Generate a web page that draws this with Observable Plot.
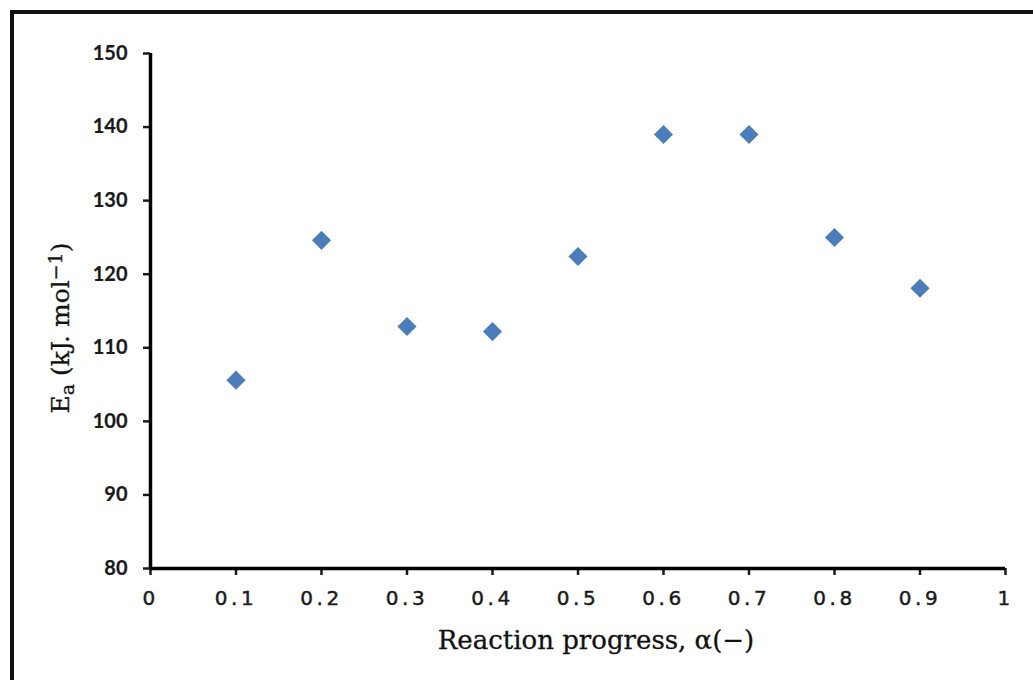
<!DOCTYPE html>
<html>
<head>
<meta charset="utf-8">
<script src="https://cdn.jsdelivr.net/npm/d3@7"></script>
<script src="https://cdn.jsdelivr.net/npm/@observablehq/plot@0.6"></script>
<style>
  html, body { margin: 0; padding: 0; background: #fff; overflow: hidden; }
  #wrap { position: relative; width: 1033px; height: 680px; overflow: hidden; }
  #frame { position: absolute; left: 10px; top: 10px; width: 1100px; height: 800px;
           border: 4px solid #111; box-shadow: 2px 2px 2px #bbb; pointer-events: none; }
  g[aria-label="x-axis tick label"] text { letter-spacing: 3.5px; stroke: #1a1a1a; stroke-width: 0.45px; }
  g[aria-label="y-axis tick label"] text { stroke: #1a1a1a; stroke-width: 0.2px; }
</style>
</head>
<body>
<div id="wrap"><div id="frame"></div></div>
<script>
// Data
const progress = [0.1, 0.2, 0.3, 0.4, 0.5, 0.6, 0.7, 0.8, 0.9];
const activation = [105.6, 124.6, 112.9, 112.2, 122.4, 139.0, 139.0, 125.0, 118.1];
const xTicks = [0, 0.1, 0.2, 0.3, 0.4, 0.5, 0.6, 0.7, 0.8, 0.9, 1];
const xTickLabels = ["0", "0.1", "0.2", "0.3", "0.4", "0.5", "0.6", "0.7", "0.8", "0.9", "1"];
const yTicks = [80, 90, 100, 110, 120, 130, 140, 150];
const yTickLabels = ["80", "90", "100", "110", "120", "130", "140", "150"];
const xTitle = "Reaction progress, α(−)";
const yTitleParts = ["E", "a", " (kJ. mol", "−1", ")"];
const yTitle = yTitleParts.join("");

const rows = progress.map((p, i) => ({p, e: activation[i]}));

const chart = Plot.plot({
  width: 1033,
  height: 680,
  marginLeft: 150,
  marginRight: 28,
  marginTop: 53,
  marginBottom: 112,
  style: {background: "transparent", color: "#1a1a1a"},
  x: {domain: [0, 1]},
  y: {domain: [80, 150]},
  marks: [
    Plot.axisX({ticks: xTicks, tickSize: 7, tickPadding: 15, strokeWidth: 2.5,
      tickFormat: d => xTickLabels[xTicks.indexOf(d)],
      fontSize: 20, fontFamily: "DejaVu Sans", label: null}),
    Plot.axisY({ticks: yTicks, tickSize: 7, tickPadding: 16, strokeWidth: 2.5,
      tickFormat: d => yTickLabels[yTicks.indexOf(d)],
      fontSize: 20, fontFamily: "Lato", fontWeight: "bold", label: null}),
    Plot.ruleX([0], {stroke: "#000", strokeWidth: 3.5}),
    Plot.ruleY([80], {stroke: "#000", strokeWidth: 3.5}),
    Plot.dot(rows, {x: "p", y: "e", symbol: "diamond2", r: 8.6, fill: "#4a7ebb", stroke: "none"}),
    Plot.text([xTitle], {frameAnchor: "bottom", dy: 80, dx: 18, textAnchor: "middle", fontSize: 26, fontFamily: "DejaVu Serif", fill: "#111", stroke: "#111", strokeWidth: 0.3}),
    Plot.text([yTitle], {frameAnchor: "left", rotate: -90, dx: -90, dy: 17, textAnchor: "middle", fontSize: 25, fontFamily: "DejaVu Serif", fill: "#111", stroke: "#111", strokeWidth: 0.3})
  ]
});
// Rebuild the y title with real subscript / superscript tspans
d3.select(chart).selectAll("text").filter(function() { return this.textContent === yTitle; })
  .each(function() {
    const t = d3.select(this);
    t.text(null);
    t.append("tspan").text(yTitleParts[0]);
    t.append("tspan").attr("baseline-shift", "-28%").attr("font-size", "19").text(yTitleParts[1]);
    t.append("tspan").text(yTitleParts[2]);
    t.append("tspan").attr("baseline-shift", "38%").attr("font-size", "19").text(yTitleParts[3]);
    t.append("tspan").text(yTitleParts[4]);
  });
document.getElementById("wrap").insertBefore(chart, document.getElementById("frame"));
</script>
</body>
</html>
